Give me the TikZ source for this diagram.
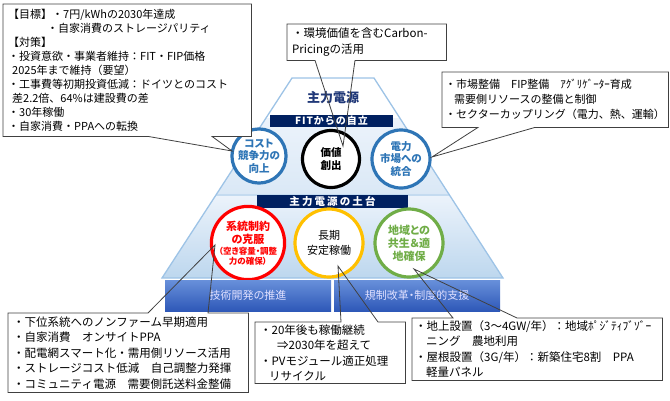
\documentclass[tikz,border=0pt]{standalone}
\usepackage{fontspec}
\setmainfont{Noto Sans CJK JP}
\newfontfamily\paltfont{Noto Sans CJK JP}[RawFeature={+palt}]
\usetikzlibrary{positioning,calc}
\definecolor{navy}{RGB}{0,32,96}
\definecolor{headblue}{RGB}{32,56,120}
\definecolor{ringblue}{RGB}{46,117,182}
\definecolor{ringred}{RGB}{255,0,0}
\definecolor{ringgold}{RGB}{255,192,0}
\definecolor{ringgreen}{RGB}{112,173,71}
\definecolor{pyredge}{RGB}{157,195,230}
\definecolor{pyrpale}{RGB}{236,243,251}
\definecolor{pyrmid}{RGB}{218,232,246}
\definecolor{pyrdeep}{RGB}{189,215,238}
\definecolor{barhi}{RGB}{104,144,218}
\definecolor{barlo}{RGB}{46,88,184}
\definecolor{notegray}{RGB}{64,64,64}
\tikzset{
  tier/.style={draw=pyredge, line width=1.3pt},
  band/.style={fill=navy, text=white, inner sep=0pt},
  ring/.style={circle, fill=white, line width=3.2pt, inner sep=0pt, align=center,
               font=\paltfont\fontsize{10.5}{12.5}\selectfont\bfseries},
  pillar/.style={top color=barhi, bottom color=barlo, text=white!88!blue,
                 minimum width=166pt, minimum height=31pt, inner sep=0pt,
                 font=\paltfont\fontsize{11}{13}\selectfont},
  note/.style={fill=white, align=left, inner xsep=5pt, inner ysep=0pt,
               font=\fontsize{11.5}{15.5}\selectfont},
  callout/.style={draw=notegray, line width=0.8pt},
}
\newcommand{\smallring}{\fontsize{8.5}{9.5}\selectfont}

\begin{document}
\begin{tikzpicture}[x=1pt,y=-1pt]
  \useasboundingbox (0,0) rectangle (670,400);
  % pyramid
  \fill[white] (292,78) -- (374,78) -- (400,118) -- (266,118) -- cycle;
  \shade[top color=pyrpale, bottom color=pyrmid] (266,118) -- (400,118) -- (449.5,195) -- (216,195) -- cycle;
  \shade[top color=pyrpale, bottom color=pyrdeep] (216,195) -- (449.5,195) -- (503,278) -- (162,278) -- cycle;
  \draw[tier, draw=pyredge!60] (216,195) -- (449.5,195);
  \draw[tier] (292,78) -- (374,78) -- (503,278) -- (162,278) -- cycle;
  \node[font=\fontsize{13}{15}\selectfont\bfseries, text=headblue] (apex) at (333,98) {主力電源};
  \node[band, minimum width=123pt, minimum height=12pt,
        font=\fontsize{10}{12}\selectfont\bfseries\addfontfeature{LetterSpace=10}] (fitband) at (331.5,121) {FITからの自立};
  \node[band, minimum width=151pt, minimum height=13pt,
        font=\fontsize{10.5}{12}\selectfont\bfseries\addfontfeature{LetterSpace=20}] (baseband) at (332.5,201.5) {主力電源の土台};

  % upper rings
  \node[ring, draw=ringblue, text=ringblue, minimum size=54pt] (cost) at (259,156) {コスト\\競争力の\\向上};
  \node[ring, draw=black, text=black, minimum size=57pt] (value) at (331,159) {価値\\創出};
  \node[ring, draw=ringblue, text=ringblue, minimum size=58pt] (power) at (401,159) {電力\\市場への\\統合};
  % lower rings
  \node[ring, draw=ringred, text=ringred, minimum size=67pt,
        font=\paltfont\fontsize{11}{13}\selectfont\bfseries] (grid) at (248,243)
       {系統制約\\の克服\\[-2pt]{\smallring（空き容量・調整}\\[-3pt]{\smallring 力の確保）}};
  \node[ring, draw=ringgold, text=black, minimum size=68pt,
        font=\paltfont\fontsize{11}{15}\selectfont] (steady) at (329,243) {長期\\安定稼働};
  \node[ring, draw=ringgreen, text=ringgreen, minimum size=68pt,
        font=\paltfont\fontsize{11}{13}\selectfont\bfseries] (local) at (409,243) {地域との\\共生＆適\\地確保};

  % pillars
  \node[pillar] (tech) at (248,295.5) {技術開発の推進};
  \node[pillar] (rule) at (417,295.5) {規制改革・制度的支援};

  % notes
  \node[note, anchor=north west, text width=238pt, minimum height=132pt,
        font=\fontsize{11}{14}\selectfont] (goalnote) at (3,4)
       {【目標】・7円/kWhの2030年達成\\
        \hspace*{39pt}・自家消費のストレージパリティ\\
        【対策】\\
        ・投資意欲・事業者維持：FIT・FIP価格\\
        \hspace*{4pt}2025年まで維持（要望）\\
        ・工事費等初期投資低減：ドイツとのコスト\\
        \hspace*{4pt}差2.2倍、64\%は建設費の差\\
        ・30年稼働\\
        ・自家消費・PPAへの転換};
  \node[note, anchor=north west, text width=149pt, minimum height=36pt] (carbonnote) at (287,24)
       {・環境価値を含むCarbon-\\Pricingの活用};
  \node[note, anchor=north west, text width=220pt, inner xsep=3pt, minimum height=55pt,
        font=\fontsize{11}{15}\selectfont] (marketnote) at (442,72)
       {・市場整備　FIP整備　ｱｸﾞﾘｹﾞｰﾀｰ育成\\
        \hspace*{9pt}需要側リソースの整備と制御\\
        ・セクターカップリング（電力、熱、運輸）};
  \node[note, anchor=north west, text width=230pt, minimum height=79pt] (gridnote) at (8,313)
       {・下位系統へのノンファーム早期適用\\
        ・自家消費　オンサイトPPA\\
        ・配電網スマート化・需用側リソース活用\\
        ・ストレージコスト低減　自己調整力発揮\\
        ・コミュニティ電源　需要側託送料金整備};
  \node[note, anchor=north west, text width=140pt, minimum height=61pt] (steadynote) at (255,322)
       {・20年後も稼働継続\\
        \hspace*{17pt}⇒2030年を超えて\\
        ・PVモジュール適正処理\\
        \hspace*{9pt}リサイクル};
  \node[note, anchor=north west, text width=244pt, inner xsep=3pt, minimum height=62pt] (localnote) at (412,318)
       {・地上設置（3～4GW/年）：地域ﾎﾟｼﾞﾃｨﾌﾞｿﾞｰ\\
        \hspace*{11pt}ニング　農地利用\\
        ・屋根設置（3G/年）：新築住宅8割　PPA\\
        \hspace*{11pt}軽量パネル};

  % pointer tips
  \coordinate (goaltip) at (232,151);
  \coordinate (carbontip) at (343,146);
  \coordinate (markettip) at (432,157);
  \coordinate (gridtip) at (215,245);
  \coordinate (steadytip) at (338,266);
  \coordinate (localtip) at (414,269);

  % callout outlines
  \draw[callout] ([xshift=145pt]goalnote.south west) -- (goalnote.south west) -- (goalnote.north west)
    -- (goalnote.north east) -- (goalnote.south east) -- ([xshift=209pt]goalnote.south west) -- (goaltip) -- cycle;
  \draw[callout] ([xshift=28pt]carbonnote.south west) -- (carbonnote.south west) -- (carbonnote.north west)
    -- (carbonnote.north east) -- (carbonnote.south east) -- ([xshift=68pt]carbonnote.south west) -- (carbontip) -- cycle;
  \draw[callout] ([xshift=36pt]marketnote.south west) -- (marketnote.south west) -- (marketnote.north west)
    -- (marketnote.north east) -- (marketnote.south east) -- ([xshift=93pt]marketnote.south west) -- (markettip) -- cycle;
  \draw[callout] ([xshift=140pt]gridnote.north west) -- (gridnote.north west) -- (gridnote.south west)
    -- (gridnote.south east) -- (gridnote.north east) -- ([xshift=200pt]gridnote.north west) -- (gridtip) -- cycle;
  \draw[callout] ([xshift=86pt]steadynote.north west) -- (steadynote.north west) -- (steadynote.south west)
    -- (steadynote.south east) -- (steadynote.north east) -- ([xshift=123pt]steadynote.north west) -- (steadytip) -- cycle;
  \draw[callout] ([xshift=41pt]localnote.north west) -- (localnote.north west) -- (localnote.south west)
    -- (localnote.south east) -- (localnote.north east) -- ([xshift=105pt]localnote.north west) -- (localtip) -- cycle;
\end{tikzpicture}
\end{document}
